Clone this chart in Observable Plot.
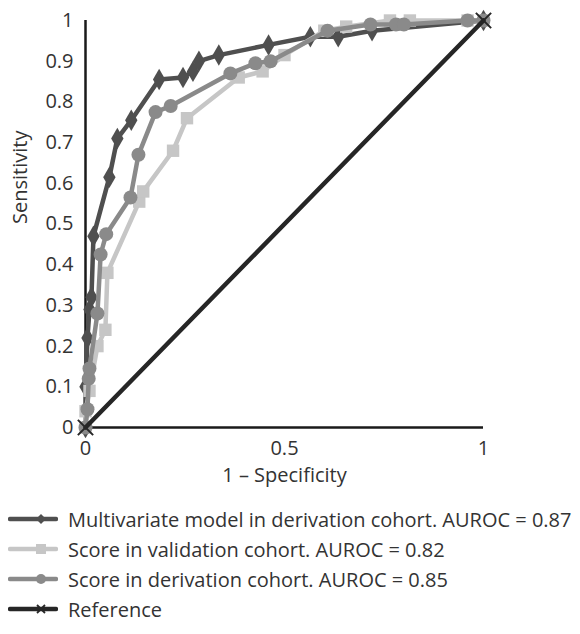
<!DOCTYPE html>
<html>
<head>
<meta charset="utf-8">
<script src="https://cdn.jsdelivr.net/npm/d3@7"></script>
<script src="https://cdn.jsdelivr.net/npm/@observablehq/plot@0.6"></script>
<style>
  body { margin: 0; background: #fff; font-family: "Open Sans", "Noto Sans", sans-serif; }
  #chart { width: 580px; }
  .legend { margin-top: 14px; }
  .item { display: flex; align-items: center; height: 30px; font-size: 20px; color: #333; white-space: nowrap; }
  .item svg { margin-left: 8px; margin-right: 10px; flex: none; }
</style>
</head>
<body>
<div id="chart"></div>
<script>
// Multivariate model in derivation cohort (diamonds)
const multiX = [0, 0, 0.005, 0.01, 0.015, 0.02, 0.06, 0.08, 0.115, 0.185, 0.245, 0.27, 0.285, 0.335, 0.46, 0.565, 0.635, 0.72, 1];
const multiY = [0, 0.1, 0.22, 0.29, 0.32, 0.47, 0.615, 0.71, 0.755, 0.855, 0.86, 0.875, 0.9, 0.915, 0.94, 0.96, 0.96, 0.975, 1];
// Score in validation cohort (squares)
const validX = [0, 0, 0.01, 0.03, 0.05, 0.055, 0.135, 0.145, 0.22, 0.255, 0.385, 0.445, 0.5, 0.6, 0.655, 0.765, 0.815, 0.96, 1];
const validY = [0, 0.04, 0.09, 0.2, 0.24, 0.38, 0.555, 0.58, 0.68, 0.76, 0.86, 0.875, 0.915, 0.975, 0.985, 1, 1, 1, 1];
// Score in derivation cohort (circles)
const derivX = [0, 0.005, 0.008, 0.01, 0.03, 0.038, 0.052, 0.113, 0.133, 0.176, 0.214, 0.364, 0.427, 0.465, 0.608, 0.716, 0.78, 0.8, 0.96, 1];
const derivY = [0, 0.045, 0.12, 0.145, 0.28, 0.425, 0.475, 0.565, 0.67, 0.775, 0.79, 0.87, 0.895, 0.9, 0.975, 0.99, 0.99, 0.99, 1, 1];
// Reference line
const refX = [0, 1];
const refY = [0, 1];

const yTicks = [0, 0.1, 0.2, 0.3, 0.4, 0.5, 0.6, 0.7, 0.8, 0.9, 1];
const xTicks = [0, 0.5, 1];
const seriesNames = [
  "Multivariate model in derivation cohort. AUROC = 0.87",
  "Score in validation cohort. AUROC = 0.82",
  "Score in derivation cohort. AUROC = 0.85",
  "Reference"
];
const colors = ["#4f4f4f", "#c6c6c6", "#8a8a8a", "#262626"];

const zip = (xs, ys) => xs.map((x, i) => ({x, y: ys[i]}));
const multi = zip(multiX, multiY);
const valid = zip(validX, validY);
const deriv = zip(derivX, derivY);
const ref = zip(refX, refY);

const plot = Plot.plot({
  width: 580,
  height: 490,
  marginLeft: 85,
  marginRight: 97,
  marginTop: 20,
  marginBottom: 63,
  style: {fontFamily: "'Open Sans', 'Noto Sans', sans-serif", fontSize: "20px", color: "#333", background: "#fff"},
  x: {domain: [0, 1]},
  y: {domain: [0, 1]},
  marks: [
    Plot.axisY({ticks: yTicks, tickSize: 0, tickPadding: 12, tickFormat: d => String(+d.toFixed(1)), fontSize: 20, label: null}),
    Plot.axisX({ticks: xTicks, tickSize: 0, tickPadding: 13, tickFormat: d => String(d), fontSize: 20, label: null}),
    Plot.text(["Sensitivity"], {frameAnchor: "left", dx: -65, rotate: -90, fontSize: 20, fill: "#333"}),
    Plot.text(["1 – Specificity"], {frameAnchor: "bottom", dy: 54, fontSize: 20, fill: "#333"}),
    Plot.ruleX([0], {stroke: "#1a1a1a", strokeWidth: 2.5}),
    Plot.ruleY([0], {stroke: "#1a1a1a", strokeWidth: 2.5}),
    Plot.line(multi, {x: "x", y: "y", stroke: colors[0], strokeWidth: 4.5}),
    Plot.dot(multi, {x: "x", y: "y", symbol: "diamond", r: 6.5, fill: colors[0]}),
    Plot.line(valid, {x: "x", y: "y", stroke: colors[1], strokeWidth: 4.5}),
    Plot.dot(valid, {x: "x", y: "y", symbol: "square", r: 7, fill: colors[1]}),
    Plot.line(deriv, {x: "x", y: "y", stroke: colors[2], strokeWidth: 4.5}),
    Plot.dot(deriv, {x: "x", y: "y", symbol: "circle", r: 7, fill: colors[2]}),
    Plot.line(ref, {x: "x", y: "y", stroke: colors[3], strokeWidth: 4.5}),
    Plot.dot(ref, {x: "x", y: "y", symbol: "times", r: 7, stroke: colors[3], strokeWidth: 2})
  ]
});
document.getElementById("chart").appendChild(plot);

// Legend
const markerSvg = [
  '<path d="M33 4 L38 9 L33 14 L28 9 Z" fill="' + colors[0] + '"/>',
  '<rect x="28" y="4" width="10" height="10" fill="' + colors[1] + '"/>',
  '<circle cx="33" cy="9" r="5" fill="' + colors[2] + '"/>',
  '<path d="M29 5 L37 13 M37 5 L29 13" stroke="' + colors[3] + '" stroke-width="1.8"/>'
];
const legend = document.createElement("div");
legend.className = "legend";
seriesNames.forEach((name, i) => {
  const item = document.createElement("div");
  item.className = "item";
  item.innerHTML = '<svg width="50" height="18"><line x1="2" y1="9" x2="48" y2="9" stroke="' + colors[i] + '" stroke-width="4.5" stroke-linecap="round"/>' + markerSvg[i] + '</svg><span>' + name + '</span>';
  legend.appendChild(item);
});
document.getElementById("chart").appendChild(legend);
</script>
</body>
</html>
